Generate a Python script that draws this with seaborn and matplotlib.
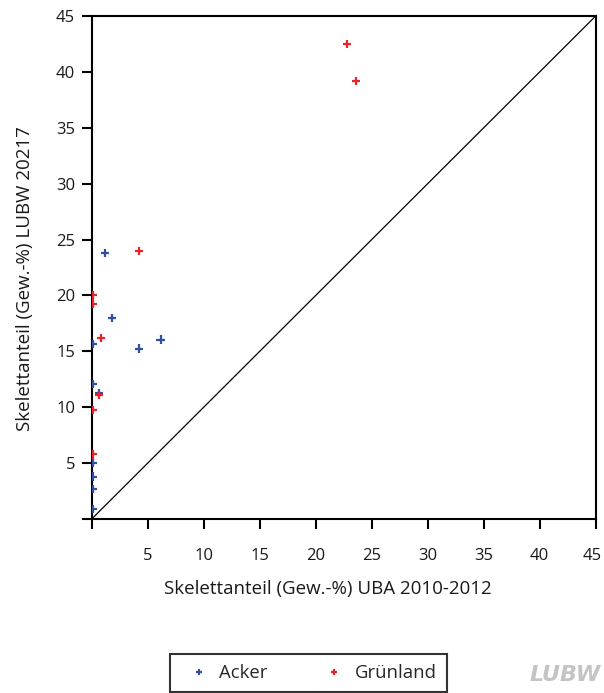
import matplotlib
matplotlib.use("Agg")
import matplotlib.pyplot as plt
import matplotlib.transforms as mtransforms
import seaborn as sns
import pandas as pd
from matplotlib.lines import Line2D

# Data
acker_x = [1.2, 1.8, 6.15, 0.1, 4.2, 0.1, 0.65, 0.1, 0.1, 0.1, 0.1]
acker_y = [23.8, 18.0, 16.05, 15.65, 15.25, 12.1, 11.3, 5.0, 3.8, 2.65, 0.87]
gruen_x = [22.8, 23.6, 4.2, 0.1, 0.1, 0.8, 0.65, 0.1, 0.1]
gruen_y = [42.5, 39.2, 24.0, 20.0, 19.2, 16.2, 11.1, 9.73, 5.78]
categories = ["Acker", "Grünland"]
colors = {"Acker": "#2f4f9f", "Grünland": "#e8232a"}
ticks = [0, 5, 10, 15, 20, 25, 30, 35, 40, 45]
tick_labels = ["", "5", "10", "15", "20", "25", "30", "35", "40", "45"]
xlabel = "Skelettanteil (Gew.-%) UBA 2010-2012"
ylabel = "Skelettanteil (Gew.-%) LUBW 20217"

df = pd.DataFrame({
    "x": acker_x + gruen_x,
    "y": acker_y + gruen_y,
    "Nutzung": [categories[0]] * len(acker_x) + [categories[1]] * len(gruen_x),
})

sns.set_theme(style="white")
plt.rcParams["font.family"] = ["Open Sans", "DejaVu Sans"]

fig = plt.figure(figsize=(6.04, 6.93), dpi=100)
ax = fig.add_axes([91.7 / 604, 1 - 519 / 693, 504 / 604, 503 / 693])

ax.axline((0, 0), slope=1, color="black", lw=0.9, zorder=1)

sns.scatterplot(data=df, x="x", y="y", hue="Nutzung", palette=colors,
                marker="+", s=35, linewidth=1.6, legend=False, ax=ax, zorder=3)

ax.set_xlim(0, 45)
ax.set_ylim(0, 45)
ax.set_xticks(ticks)
ax.set_xticklabels(tick_labels)
ax.set_yticks(ticks)
ax.set_yticklabels(tick_labels)
ax.tick_params(axis="both", direction="out", length=7, width=1.5, color="black",
               labelsize=12, labelcolor="#1a1a1a", bottom=True, left=True)
ax.tick_params(axis="x", pad=14)
ax.tick_params(axis="y", pad=5)
for sp in ax.spines.values():
    sp.set_visible(True)
    sp.set_color("black")
    sp.set_linewidth(1.5)

# nudge last x tick label so it stays inside the canvas
last = ax.get_xticklabels()[-1]
last.set_transform(last.get_transform() + mtransforms.ScaledTranslation(-4 / 100, 0, fig.dpi_scale_trans))

ax.set_xlabel(xlabel, fontsize=13.5, color="#1a1a1a")
ax.set_ylabel(ylabel, fontsize=13.5, color="#1a1a1a")
ax.xaxis.set_label_coords((327.5 - 91.7) / 504, (519 - 580) / 503)
ax.yaxis.set_label_coords((34 - 91.7) / 504, (519 - 278.5) / 503)

handles = [Line2D([], [], marker="+", linestyle="none", markersize=5,
                  markeredgewidth=1.6, color=colors[c]) for c in categories]
leg = fig.legend(handles, categories, loc="upper center",
                 bbox_to_anchor=(308.5 / 604, 1 - 654 / 693), ncol=2,
                 frameon=True, fancybox=False, edgecolor="black",
                 fontsize=13.3, borderpad=0.55, borderaxespad=0,
                 columnspacing=2.6, handletextpad=0.1, handlelength=2.0)
leg.get_frame().set_linewidth(1.5)

fig.text(601 / 604, 1 - 675 / 693, "LUBW", fontsize=16, fontweight="bold",
         fontstyle="italic", color="#c4c4c4", ha="right", va="center",
         family=["DejaVu Sans Condensed", "Liberation Sans Narrow", "DejaVu Sans"])

fig.savefig("out.png", dpi=100)
